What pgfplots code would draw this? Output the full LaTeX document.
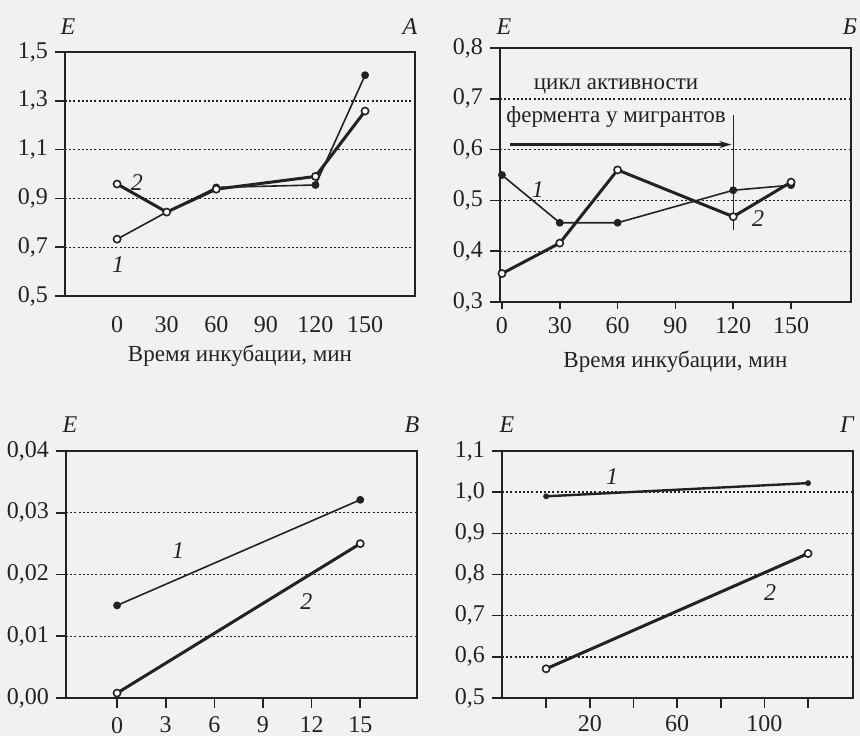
\documentclass[border=0pt]{standalone}
\usepackage{fontspec}
\setmainfont{Liberation Serif}
\usepackage{pgfplots}
\pgfplotsset{compat=1.18}
\usetikzlibrary{arrows.meta}

\definecolor{ink}{HTML}{222222}
\definecolor{paper}{HTML}{F1F1F1}

\tikzset{
  curvelab/.style={font=\fontsize{12}{14}\selectfont\itshape, text=ink},
  plab/.style={font=\fontsize{12}{14}\selectfont\itshape, text=ink},
}

\pgfplotsset{
  panel/.style={
    scale only axis, clip=false,
    axis line style={draw=ink, line width=1pt},
    xtick pos=left, ytick pos=left,
    tick align=outside,
    major tick length=5pt,
    tick style={draw=ink, line width=0.8pt},
    ymajorgrids,
    grid style={draw=ink, line width=0.7pt, dash pattern=on 1pt off 1.1pt},
    /pgf/number format/assume math mode=true,
    ticklabel style={font=\fontsize{12}{14}\selectfont, text=ink},
    label style={font=\fontsize{11.5}{14}\selectfont, text=ink},
    scaled y ticks=false, scaled x ticks=false,
    yticklabel style={/pgf/number format/use comma, /pgf/number format/fixed,
      /pgf/number format/fixed zerofill, /pgf/number format/precision=1},
    xticklabel style={/pgf/number format/fixed},
    xlabel style={at={(axis description cs:0.5,0)}, anchor=center, yshift=-30pt},
  },
  thinline/.style={draw=ink, line width=0.8pt, mark=*, mark size=1.7pt,
    mark options={solid, fill=ink, draw=ink, line width=0.5pt}},
  thickline/.style={draw=ink, line width=1.5pt, mark=*, mark size=1.8pt,
    mark options={solid, fill=white, draw=ink, line width=0.8pt}},
  openmarks/.style={only marks, mark=*, mark size=1.8pt,
    mark options={solid, fill=white, draw=ink, line width=0.8pt}},
}

\begin{document}
\begin{tikzpicture}
\fill[paper] (0,0) rectangle (430pt,-368pt);
\useasboundingbox (0,0) rectangle (430pt,-368pt);

% panel letters and axis names
\node[plab] at (34pt,-13.5pt) {E};
\node[plab] at (205pt,-13.5pt) {A};
\node[plab] at (252pt,-13.5pt) {E};
\node[plab] at (425pt,-13.5pt) {Б};
\node[plab] at (35pt,-212.5pt) {E};
\node[plab] at (206pt,-212.5pt) {В};
\node[plab] at (253.5pt,-212.5pt) {E};
\node[plab] at (423.5pt,-212.5pt) {Г};

% ---------- A ----------
\begin{axis}[panel, at={(32.5pt,-26pt)}, anchor=north west,
  width=175pt, height=122pt,
  xmin=-31.5, xmax=180.2, ymin=0.5, ymax=1.5,
  xtick={0,30,60,90,120,150}, ytick={0.5,0.7,0.9,1.1,1.3,1.5},
  xtick style={draw=none},
  xticklabel style={yshift=-1.5pt},
  xlabel={Время инкубации, мин}]
\addplot[thinline] coordinates {(0,0.733) (30,0.844) (60,0.945) (120,0.955) (150,1.405)};
\addplot[openmarks] coordinates {(0,0.733)};
\addplot[thickline] coordinates {(0,0.959) (30,0.844) (60,0.938) (120,0.990) (150,1.258)};
\node[curvelab] at (axis cs:12,0.963) {2};
\node[curvelab] at (axis cs:0.6,0.627) {1};
\end{axis}

% ---------- Б ----------
\begin{axis}[panel, at={(250pt,-24pt)}, anchor=north west,
  width=175.5pt, height=127pt,
  xmin=-1, xmax=181.1, ymin=0.3, ymax=0.8,
  xtick={0,30,60,90,120,150}, ytick={0.3,0.4,0.5,0.6,0.7,0.8},
  xtick style={/pgfplots/major tick length=3.5pt},
  xticklabel style={yshift=1pt},
  xlabel={Время инкубации, мин}]
\addplot[thinline] coordinates {(0,0.55) (30,0.456) (60,0.456) (120,0.52) (150,0.53)};
\addplot[thickline] coordinates {(0,0.356) (30,0.416) (60,0.56) (120,0.468) (150,0.536)};
\draw[ink, line width=0.7pt] (axis cs:120,0.668) -- (axis cs:120,0.442);
\draw[ink, line width=1.1pt, -{Stealth[length=6pt,width=3.5pt]}] (axis cs:4.2,0.61) -- (axis cs:119,0.61);
\node[font=\fontsize{11.5}{14}\selectfont, text=ink] at (axis cs:59.2,0.724) {цикл активности};
\node[font=\fontsize{11.5}{14}\selectfont, text=ink] at (axis cs:59.2,0.664) {фермента у мигрантов};
\node[curvelab] at (axis cs:18.7,0.522) {1};
\node[curvelab] at (axis cs:132.9,0.464) {2};
\end{axis}

% ---------- В ----------
\begin{axis}[panel, at={(33pt,-225.5pt)}, anchor=north west,
  width=175.5pt, height=123.5pt,
  xmin=-3.15, xmax=18.5, ymin=0, ymax=0.04,
  xtick={0,3,6,9,12,15}, ytick={0,0.01,0.02,0.03,0.04},
  yticklabel style={/pgf/number format/precision=2},
  xticklabel style={yshift=-1pt}]
\addplot[thinline] coordinates {(0,0.015) (15,0.0321)};
\addplot[thickline] coordinates {(0,0.0008) (15,0.025)};
\node[curvelab] at (axis cs:3.77,0.0239) {1};
\node[curvelab] at (axis cs:11.67,0.0156) {2};
\end{axis}

% ---------- Г ----------
\begin{axis}[panel, at={(251pt,-225.5pt)}, anchor=north west,
  width=175.5pt, height=123.5pt,
  xmin=-20.2, xmax=140.6, ymin=0.5, ymax=1.1,
  xtick={0,20,40,60,80,100,120}, xticklabels={,20,,60,,100,},
  ytick={0.5,0.6,0.7,0.8,0.9,1.0,1.1}]
\addplot[thinline, line width=1.2pt, mark size=1.2pt] coordinates {(0,0.990) (120,1.022)};
\addplot[thickline] coordinates {(0,0.571) (120,0.851)};
\node[curvelab] at (axis cs:30.2,1.039) {1};
\node[curvelab] at (axis cs:102.6,0.756) {2};
\end{axis}
\end{tikzpicture}
\end{document}
